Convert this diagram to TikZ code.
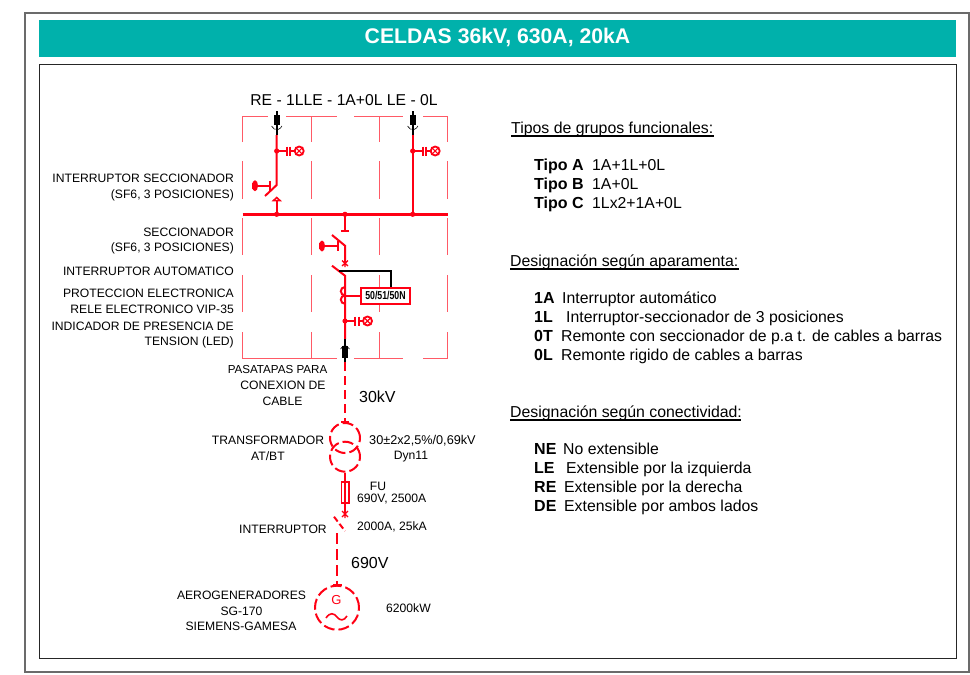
\documentclass[tikz,border=0pt]{standalone}
\usepackage{fontspec}
\setmainfont{Liberation Sans}
\usetikzlibrary{calc}
\definecolor{teal1}{HTML}{00B1AB}
\definecolor{rd}{HTML}{FF0014}
\definecolor{panelpink}{HTML}{FF5A66}
\tikzset{
 outerframe/.style={draw=black!58,line width=1.2pt},
 innerframe/.style={draw=black!85,line width=0.9pt},
 captxt/.style={font=\fontsize{12.15}{12}\selectfont,inner sep=0pt,text=black},
 capr/.style={captxt,anchor=base east},
 capc/.style={captxt,anchor=base},
 capl/.style={captxt,anchor=base west},
 bodyt/.style={font=\fontsize{15.8}{15}\selectfont,inner sep=0pt,anchor=base west,text=black},
 boldt/.style={font=\bfseries\fontsize{16}{15}\selectfont,inner sep=0pt,anchor=base west,text=black},
 headt/.style={font=\fontsize{15.85}{15}\selectfont,inner sep=0pt,anchor=base west,text=black},
 volt/.style={font=\fontsize{16}{16}\selectfont,inner sep=0pt,anchor=base west,text=black},
 panel/.style={draw=panelpink,line width=0.9pt},
 bus/.style={draw=rd,line width=2.4pt},
 wire/.style={draw=rd,line width=2pt},
 dashline/.style={draw=rd,line width=2pt,dash pattern=on 9pt off 5pt},
 dashcirc/.style={circle,draw=rd,line width=2pt,dash pattern=on 11pt off 4pt,inner sep=0pt},
 blk/.style={draw=black,line width=2pt},
 lampn/.style={circle,draw=rd,line width=1.8pt,inner sep=0pt,minimum size=9pt},
 underl/.style={draw=black,line width=1.2pt},
}
\newcommand{\earthlamp}[3]{% x, y, name
 \fill[rd] (#1,#2) circle (2.6pt);
 \draw[wire] (#1,#2) -- ++(10,0);
 \draw[wire] (#1+10,#2-4.5) -- (#1+10,#2+4.5);
 \draw[wire] (#1+13.5,#2-4.5) -- (#1+13.5,#2+4.5);
 \draw[wire] (#1+13.5,#2) -- ++(5,0);
 \node[lampn] (#3) at (#1+22.5,#2) {};
 \draw[rd,line width=1.1pt] (#3.north west) -- (#3.south east) (#3.north east) -- (#3.south west);
}
\newcommand{\knobsym}[3]{% x of tick, y, x of knob
 \draw[wire] (#1,#2-5) -- (#1,#2+5);
 \draw[wire] (#1,#2) -- (#3,#2);
 \fill[rd] (#3,#2) ellipse (3pt and 5.5pt);
 \fill[rd] (#3-3,#2-3) rectangle (#3,#2+3);
}
\begin{document}
\begin{tikzpicture}[x=1pt,y=-1pt]
\useasboundingbox (0,0) rectangle (970,675);
\fill[white] (0,0) rectangle (970,675);
% frames
\draw[outerframe] (25,13) rectangle (969,672);
\node[fill=teal1,minimum width=917pt,minimum height=36.5pt,inner sep=0pt] (band) at (497.5,38.7) {};
\node[font=\bfseries\fontsize{21.2}{21}\selectfont,text=white,inner sep=0pt] (title) at (497.5,37) {CELDAS 36kV, 630A, 20kA};
\draw[innerframe] (39,64) rectangle (956,658);
% header of the panels
\node[font=\fontsize{15.7}{16}\selectfont,inner sep=0pt,anchor=base,text=black] (hdr) at (344,105) {RE - 1LLE - 1A+0L LE - 0L};
% panel outlines
\draw[panel] (242.7,142) -- (242.7,116) -- (268,116) (286,116) -- (337,116) (354,116) -- (403,116) (423,116) -- (447.5,116) -- (447.5,142);
\draw[panel] (242.7,332) -- (242.7,358) -- (337,358) (354,358) -- (403,358) (423,358) -- (447.5,358) -- (447.5,332);
\foreach \x in {242.7,311,379,447.5}{
 \foreach \a/\b in {161/199,218/255,275/312}{\draw[panel] (\x,\a) -- (\x,\b);}
}
\foreach \x in {311,379}{
 \foreach \a/\b in {116/142,332/358}{\draw[panel] (\x,\a) -- (\x,\b);}
}
% busbar
\coordinate (busL) at (242.7,214.3); \coordinate (busR) at (447.5,214.3);
\draw[bus] (busL) -- (busR);
\coordinate (fA) at (276.7,214.3); \coordinate (fB) at (345,214.3); \coordinate (fC) at (412.7,214.3);
\foreach \p in {fA,fB,fC}{\fill[rd] (\p) circle (2.6pt);}
% left feeder
\draw[blk] (276.7,111) -- (276.7,135);
\fill[black] (273.7,115) rectangle (279.7,125);
\draw[black,line width=.6pt] (271.5,126) arc (200:340:5.5pt);
\draw[wire] (276.7,135) -- (276.7,185) -- (265,196);
\earthlamp{276.7}{151}{lampA}
\knobsym{270}{185.7}{255}
\draw[wire] (fA) -- (276.7,200);
\draw[wire,line width=1.5pt] (273.5,200.5) -- (280,200.5) -- (276.7,197.5) -- cycle;
% right feeder
\draw[blk] (412.7,111) -- (412.7,135);
\fill[black] (409.7,115) rectangle (415.7,125);
\draw[black,line width=.6pt] (407.5,126) arc (200:340:5.5pt);
\draw[wire] (412.7,135) -- (fC);
\earthlamp{412.7}{151}{lampC}
% centre feeder
\draw[wire] (fB) -- (345,231);
\draw[wire] (341,231) -- (349,231);
\draw[wire] (332,235) -- (345,245.7) -- (345,263);
\draw[rd,line width=1.3pt] (342,260.5) -- (348,266) (348,260.5) -- (342,266) (345,260) -- (345,267);
\knobsym{338}{246}{322}
\draw[wire] (332,265.7) -- (345,275.7) -- (345,339);
% relay
\node[draw=rd,line width=1.8pt,minimum width=49pt,minimum height=16pt,inner sep=0pt,fill=white,font=\bfseries\fontsize{11.5}{11}\selectfont] (relay) at (385.5,295.7) {\addfontfeature{FakeStretch=.76}50/51/50N};
\draw[blk,line width=1.7pt] (339,270.7) -- (390.7,270.7) -- ($(relay.north)+(5.2,0)$);
\draw[wire] (345,295.7) -- (relay.west);
\draw[wire] (345,287) arc (90:270:4.2pt);
\draw[wire] (345,295.4) arc (90:270:4.2pt);
\earthlamp{345}{321}{lampB}
% bushing
\draw[blk] (345,339) -- (345,362);
\fill[black] (342,346) rectangle (348,358);
\draw[black,line width=.6pt] (340.5,349) arc (160:20:4.8pt);
\draw[dashline] (345,362) -- (345,422);
% transformer
\draw[wire] (341,422) -- (349,422);
\node[dashcirc,minimum size=30pt] (tr1) at (345,438) {};
\node[dashcirc,minimum size=30pt] (tr2) at (345,456.7) {};
\draw[wire] (tr2.south) -- (345,513);
\node[draw=rd,line width=1.5pt,minimum width=7.5pt,minimum height=21pt,inner sep=0pt] (fuse) at (345.3,492.5) {};
\draw[rd,line width=1.3pt] (342,511) -- (348,517) (348,511) -- (342,517) (345,510) -- (345,518);
\draw[wire,dash pattern=on 6pt off 3pt] (334,516.7) -- (345,531);
\draw[wire,dash pattern=on 11pt off 5pt] (337.3,533) -- (337.3,585);
\draw[wire] (333,585) -- (341.5,585);
\node[dashcirc,minimum size=44pt] (gen) at (337,607.7) {};
\node[font=\fontsize{13}{13}\selectfont,text=rd,inner sep=0pt] (gl) at (336.5,600) {G};
\draw[wire,line width=1.6pt] (326,618) .. controls (330,612) and (334,613) .. (337,617) .. controls (340,621) and (344,621) .. (347,616);
% left captions
\node[capr] (c1) at (234,182.5) {INTERRUPTOR SECCIONADOR};
\node[capr] (c2) at (234,198) {(SF6, 3 POSICIONES)};
\node[capr] (c3) at (234,236) {SECCIONADOR};
\node[capr] (c4) at (234,251.5) {(SF6, 3 POSICIONES)};
\node[capr] (c5) at (234,275) {INTERRUPTOR AUTOMATICO};
\node[capr] (c6) at (234,297.5) {PROTECCION ELECTRONICA};
\node[capr] (c7) at (234,313) {RELE ELECTRONICO VIP-35};
\node[capr] (c8) at (234,330) {INDICADOR DE PRESENCIA DE};
\node[capr] (c9) at (234,345.5) {TENSION (LED)};
\node[capc,font=\fontsize{11.6}{12}\selectfont] (c10) at (277.5,373) {PASATAPAS PARA};
\node[capc] (c11) at (283,389) {CONEXION DE};
\node[capc] (c12) at (282.5,405) {CABLE};
\node[volt] (v30) at (359,402) {30kV};
\node[capc] (t1) at (268,444.5) {TRANSFORMADOR};
\node[capc] (t2) at (268,460) {AT/BT};
\node[capl,font=\fontsize{12.7}{12}\selectfont] (t3) at (369,444) {30±2x2,5\%/0,69kV};
\node[capc] (t4) at (411,459) {Dyn11};
\node[capc] (fu1) at (378,490) {FU};
\node[capl] (fu2) at (357,502) {690V, 2500A};
\node[capl] (i1) at (239,533) {INTERRUPTOR};
\node[capl] (i2) at (357,530) {2000A, 25kA};
\node[volt] (v690) at (351,568) {690V};
\node[capc] (g1) at (241.5,599) {AEROGENERADORES};
\node[capc] (g2) at (241.5,615) {SG-170};
\node[capc] (g3) at (241,630) {SIEMENS-GAMESA};
\node[capl] (g4) at (386,612) {6200kW};
% right texts
\node[headt] (h1) at (511,133) {Tipos de grupos funcionales:};
\draw[underl] ($(h1.base west)+(0,3)$) -- ++(203,0);
\node[boldt] (a1) at (534,170) {Tipo A};
\node[bodyt] (a2) at (592,170) {1A+1L+0L};
\node[boldt] (b1) at (534,189) {Tipo B};
\node[bodyt] (b2) at (592,189) {1A+0L};
\node[boldt] (c1b) at (534,208) {Tipo C};
\node[bodyt] (c2b) at (592,208) {1Lx2+1A+0L};
\node[headt] (h2) at (510,266) {Designación según aparamenta:};
\draw[underl] ($(h2.base west)+(0,3)$) -- ++(229,0);
\foreach \n/\k/\v/\d/\xx in {d1/1A/Interruptor automático/303/562,d2/1L/Interruptor-seccionador de 3 posiciones/322/566,d3/0T/Remonte con seccionador de p.a t. de cables a barras/341/561,d4/0L/Remonte rigido de cables a barras/360/561}{
 \node[boldt] (\n k) at (534,\d) {\k};
 \node[bodyt] (\n v) at (\xx,\d) {\v};
}
\node[headt] (h3) at (510,417) {Designación según conectividad:};
\draw[underl] ($(h3.base west)+(0,3)$) -- ++(231,0);
\foreach \n/\k/\v/\d/\xx in {e1/NE/No extensible/454/563,e2/LE/Extensible por la izquierda/473/566,e3/RE/Extensible por la derecha/492/564,e4/DE/Extensible por ambos lados/511/564}{
 \node[boldt] (\n k) at (534,\d) {\k};
 \node[bodyt] (\n v) at (\xx,\d) {\v};
}
\end{tikzpicture}
\end{document}
